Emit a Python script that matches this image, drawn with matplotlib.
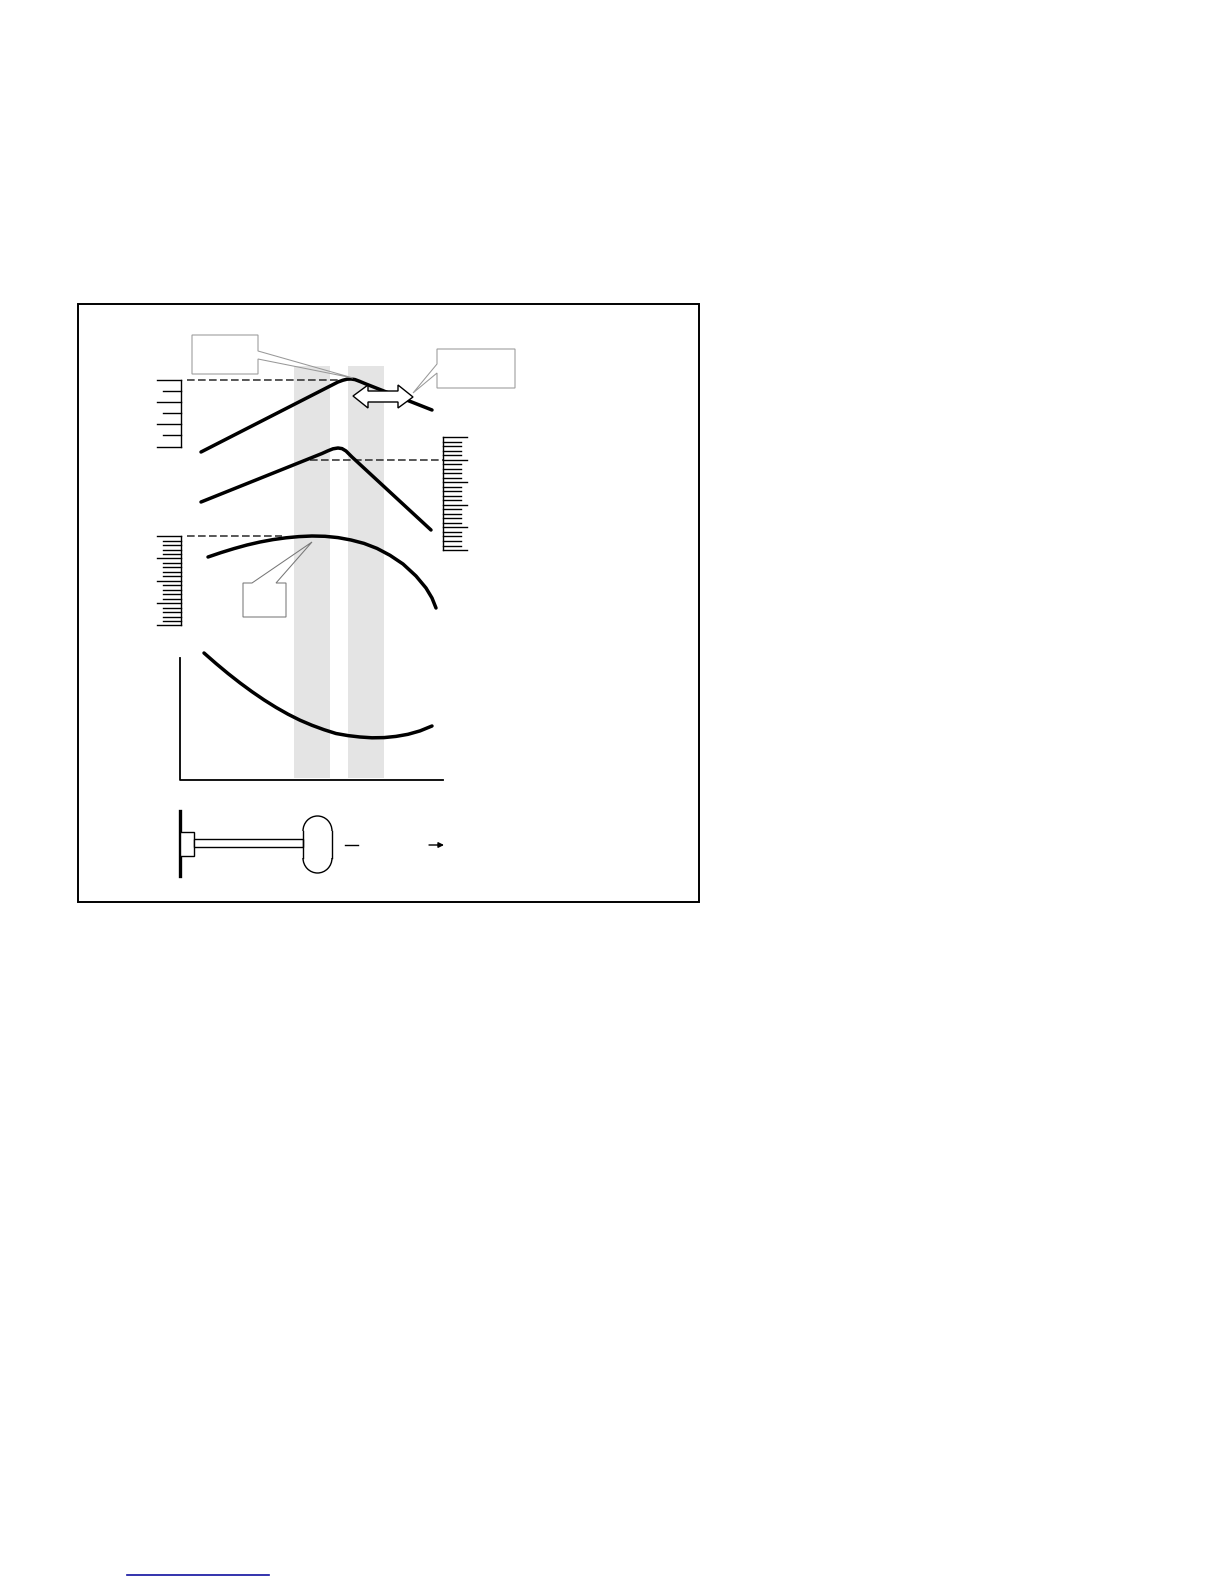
import matplotlib
matplotlib.use("Agg")
import matplotlib.pyplot as plt
from matplotlib.patches import Rectangle, Polygon, Arc

# 曲线数据, 从图上读的
curve1_x = [201, 338, 343, 347, 351, 355, 360, 366, 432]
curve1_y = [452, 382, 380.2, 379.2, 379, 379.6, 381.5, 384, 410]
curve2_x = [201, 322, 328, 333, 338, 342, 346, 352, 431]
curve2_y = [502, 453.5, 450.8, 448.8, 448, 448.6, 451, 457, 530]
curve3_x = [208, 221, 234, 247, 260, 273, 286, 299, 312, 325, 338, 351, 364, 377, 390, 403, 416, 426, 432, 436]
curve3_y = [557, 552.6, 548.6, 545, 542, 539.6, 537.8, 536.6, 536, 536.3, 537.6, 540, 543.4, 548.4, 555.3, 564, 576, 588, 598, 608]
curve4_x = [204, 216, 228, 240, 252, 264, 276, 288, 300, 312, 324, 336, 348, 360, 372, 384, 396, 408, 420, 432]
curve4_y = [653, 663.5, 673.5, 682.9, 691.7, 699.9, 707.4, 714.2, 720.2, 725.3, 729.7, 733.5, 735.6, 737, 737.8, 737.6, 736.4, 734.3, 730.9, 726]

# 灰色竖带
band_left = [294, 348]
band_right = [330, 384]
band_top = 366
band_bottom = 778

# 刻度尺
left_scale1_ticks = [380, 391, 402, 413, 424, 435, 447]
left_scale3_ticks = [536, 540.5, 545, 549.5, 554, 558, 562.5, 567, 571.5, 576, 580.5,
                     585, 589.5, 594, 598.5, 603, 607.5, 612, 616.5, 621, 625]
right_scale_ticks = [437, 441.5, 446, 450.5, 455, 459.5, 464, 468.5, 473, 477.5, 482,
                     486.5, 491, 495.5, 500, 504.5, 509, 513.5, 518, 522.5, 527,
                     531.5, 536, 541, 545.5, 550]

fig = plt.figure(figsize=(12.24, 15.84), dpi=100)
ax = fig.add_axes([0, 0, 1, 1])
ax.set_xlim(0, 1224)
ax.set_ylim(1584, 0)
ax.axis("off")

# 外框
ax.add_patch(Rectangle((78, 304), 621, 598, fill=False, edgecolor="black", linewidth=1.4, zorder=1))

for l, r in zip(band_left, band_right):
    ax.add_patch(Rectangle((l, band_top), r - l, band_bottom - band_top, facecolor="#e4e4e4",
                           edgecolor="none", zorder=1))

# 坐标轴
ax.plot([180, 180, 443], [658, 780, 780], color="black", linewidth=1.3, zorder=2)

# 刻度尺
ax.plot([181, 181], [left_scale1_ticks[0], left_scale1_ticks[-1]], color="black", linewidth=1.0)
for i, y in enumerate(left_scale1_ticks):
    ax.plot([157 if i % 2 == 0 else 163, 181], [y, y], color="black", linewidth=1.0)
ax.plot([181, 181], [left_scale3_ticks[0], left_scale3_ticks[-1]], color="black", linewidth=1.0)
for i, y in enumerate(left_scale3_ticks):
    ax.plot([157 if i % 5 == 0 else 163, 181], [y, y], color="black", linewidth=1.0)
ax.plot([443, 443], [right_scale_ticks[0], right_scale_ticks[-1]], color="black", linewidth=1.0)
for i, y in enumerate(right_scale_ticks):
    ax.plot([443, 467 if i % 5 == 0 else 461], [y, y], color="black", linewidth=1.0)

# 虚线
dash = dict(color="#2a2a2a", linewidth=1.1, linestyle=(0, (5, 2.2)), zorder=2)
ax.plot([187, 347], [380, 380], **dash)
ax.plot([310, 443], [460, 460], **dash)
ax.plot([187, 282], [536, 536], **dash)

# 四条粗曲线
for cx, cy in [(curve1_x, curve1_y), (curve2_x, curve2_y), (curve3_x, curve3_y), (curve4_x, curve4_y)]:
    ax.plot(cx, cy, color="black", linewidth=2.5, solid_capstyle="round", solid_joinstyle="round", zorder=3)

# 标注框
ax.add_patch(Polygon([(192, 335), (258, 335), (258, 351), (353, 378), (258, 359), (258, 374), (192, 374)],
                     closed=True, facecolor="none", edgecolor="#999999", linewidth=0.75, zorder=4))
ax.add_patch(Polygon([(437, 349), (515, 349), (515, 388), (437, 388), (437, 373), (413, 393), (437, 364)],
                     closed=True, facecolor="white", edgecolor="#999999", linewidth=0.75, zorder=4))
ax.add_patch(Polygon([(243, 583), (252, 583), (312, 542), (276, 583), (286, 583), (286, 617), (243, 617)],
                     closed=True, facecolor="none", edgecolor="#777777", linewidth=0.75, zorder=4))

# 双向箭头
ax.add_patch(Polygon([(353, 396), (368, 385), (368, 391), (398, 391), (398, 385), (413, 397),
                      (398, 408), (398, 402), (368, 402), (368, 408)],
                     closed=True, facecolor="white", edgecolor="black", linewidth=1.0, zorder=5))

# 下面的小图
ax.plot([180, 180], [811, 876], color="black", linewidth=2.4, zorder=3)
ax.add_patch(Rectangle((180, 832), 14, 24, facecolor="white", edgecolor="black", linewidth=1.0, zorder=4))
ax.add_patch(Rectangle((194, 839), 109, 8, facecolor="white", edgecolor="black", linewidth=1.0, zorder=4))
ax.add_patch(Arc((317.5, 831), 29, 30, theta1=180, theta2=360, edgecolor="black", linewidth=1.0, zorder=4))
ax.add_patch(Arc((317.5, 858), 29, 30, theta1=0, theta2=180, edgecolor="black", linewidth=1.0, zorder=4))
ax.plot([303, 303], [831, 858], color="black", linewidth=1.0, zorder=4)
ax.plot([332, 332], [831, 858], color="black", linewidth=1.0, zorder=4)
ax.plot([345, 358], [845, 845], color="black", linewidth=1.0)
ax.annotate("", xy=(444, 845), xytext=(429, 845),
            arrowprops=dict(arrowstyle="-|>", color="black", linewidth=1.0, mutation_scale=8, shrinkA=0, shrinkB=0))

# 页脚蓝线
ax.plot([127, 269], [1575, 1575], color="#1010a0", linewidth=1.2)

fig.savefig("out.png", dpi=100)
